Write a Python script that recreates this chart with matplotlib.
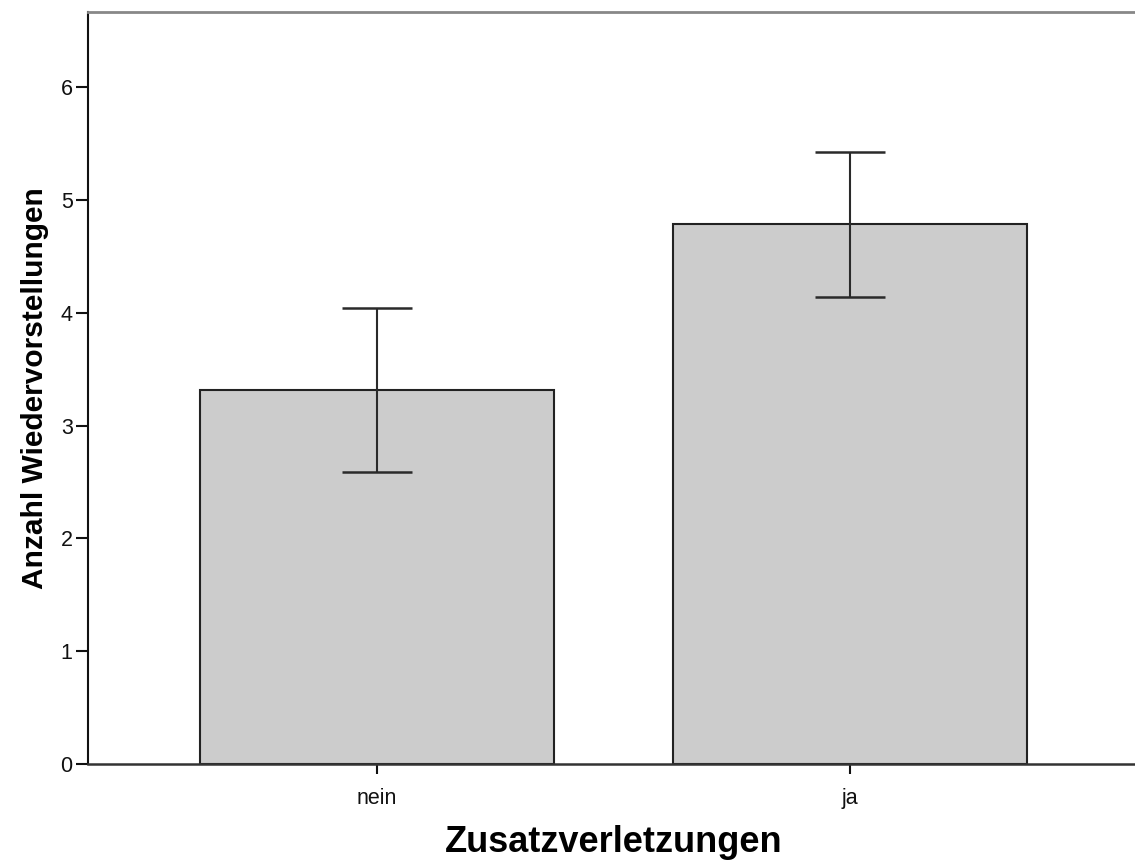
import matplotlib
matplotlib.use("Agg")
import matplotlib.pyplot as plt

categories = ["nein", "ja"]
means = [3.32, 4.785]
err_low = [2.59, 4.145]
err_high = [4.04, 5.425]
yticks = [0, 1, 2, 3, 4, 5, 6]
xlabel = "Zusatzverletzungen"
ylabel = "Anzahl Wiedervorstellungen"

plt.rcParams['font.family'] = ['Liberation Sans', 'DejaVu Sans']

W, H = 1135, 865
fig = plt.figure(figsize=(W / 100, H / 100), dpi=100)
left, right, bottom, top = 88, 1139, 764, 12
ax = fig.add_axes([left / W, (H - bottom) / H, (right - left) / W, (bottom - top) / H])

x = list(range(len(categories)))
yerr = [[m - lo for m, lo in zip(means, err_low)], [hi - m for m, hi in zip(means, err_high)]]
ax.bar(x, means, width=0.75, color='#cccccc', edgecolor='#222222', linewidth=1.5, zorder=2)
ax.errorbar(x, means, yerr=yerr, fmt='none', ecolor='#2a2a2a', elinewidth=1.5,
            capsize=25, capthick=1.8, zorder=3)

ax.set_xlim(-0.611, 1.611)
ax.set_ylim(0, 6.668)
ax.set_xticks(x)
ax.set_xticklabels(categories)
ax.set_yticks(yticks)

ax.spines['right'].set_visible(False)
ax.spines['top'].set_color('#888888')
ax.spines['top'].set_linewidth(2)
ax.spines['left'].set_color('#111111')
ax.spines['left'].set_linewidth(1.5)
ax.spines['bottom'].set_color('#333333')
ax.spines['bottom'].set_linewidth(1.8)

ax.tick_params(axis='y', direction='out', length=9, width=1.5, pad=2, labelsize=15.5, colors='#111111')
ax.tick_params(axis='x', direction='out', length=7, width=1.5, pad=10, labelsize=15.5, colors='#111111')

ax.set_xlabel(xlabel, fontsize=26, fontweight='bold', labelpad=12)
ax.set_ylabel(ylabel, fontsize=21.5, fontweight='bold', labelpad=8)

fig.savefig("out.png", dpi=100)
